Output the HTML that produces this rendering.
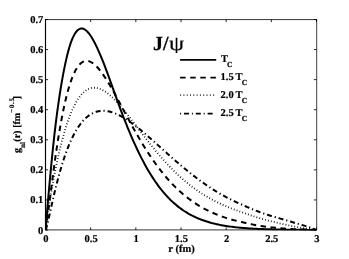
<!DOCTYPE html>
<html><head><meta charset="utf-8"><style>
html,body{margin:0;padding:0;background:#fff;}
svg{display:block;will-change:transform}
text{text-rendering:geometricPrecision;font-family:"Liberation Serif",serif;font-weight:bold;font-size:10.5px;fill:#000;stroke:#000;stroke-width:0.2px}
</style></head><body>
<svg width="349" height="259" viewBox="0 0 349 259">
<rect width="349" height="259" fill="#fff"/>
<clipPath id="c"><rect x="45.5" y="19.5" width="271.0" height="211.1"/></clipPath>
<g clip-path="url(#c)">
<path d="M45.50,230.00 L46.19,228.47 L46.89,226.04 L47.58,223.26 L48.28,220.29 L48.97,217.21 L49.67,214.09 L50.36,210.94 L51.06,207.80 L51.75,204.68 L52.45,201.59 L53.14,198.55 L53.84,195.55 L54.53,192.60 L55.23,189.71 L55.92,186.87 L56.62,184.10 L57.31,181.39 L58.01,178.74 L58.70,176.15 L59.40,173.63 L60.09,171.17 L60.79,168.77 L61.48,166.44 L62.18,164.17 L62.87,161.96 L63.57,159.81 L64.26,157.72 L64.96,155.69 L65.65,153.72 L66.35,151.81 L67.04,149.96 L67.74,148.16 L68.43,146.41 L69.13,144.72 L69.82,143.08 L70.52,141.50 L71.21,139.96 L71.91,138.48 L72.60,137.05 L74.13,134.05 L75.67,131.28 L77.20,128.73 L78.74,126.39 L80.27,124.24 L81.80,122.29 L83.34,120.52 L84.87,118.92 L86.41,117.49 L87.94,116.22 L89.47,115.10 L91.01,114.13 L92.54,113.29 L94.08,112.59 L95.61,112.01 L97.14,111.55 L98.68,111.20 L100.21,110.97 L101.75,110.84 L103.28,110.81 L104.81,110.87 L106.35,111.02 L107.88,111.26 L109.42,111.58 L110.95,111.97 L112.48,112.44 L114.02,112.98 L115.55,113.58 L117.08,114.24 L118.62,114.96 L120.15,115.74 L121.69,116.57 L123.22,117.45 L124.75,118.37 L126.29,119.34 L127.82,120.35 L129.36,121.40 L130.89,122.48 L132.42,123.59 L133.96,124.74 L135.49,125.91 L137.03,127.11 L138.56,128.34 L140.09,129.58 L141.63,130.85 L143.16,132.14 L144.70,133.44 L146.23,134.75 L147.76,136.08 L149.30,137.42 L150.83,138.78 L152.37,140.13 L153.90,141.50 L155.43,142.87 L156.97,144.25 L158.50,145.63 L160.04,147.01 L161.57,148.39 L163.10,149.77 L164.64,151.15 L166.17,152.53 L167.71,153.90 L169.24,155.27 L170.77,156.63 L172.31,157.98 L173.84,159.33 L175.38,160.67 L176.91,162.00 L178.44,163.32 L179.98,164.63 L181.51,165.93 L183.05,167.22 L184.58,168.50 L186.11,169.76 L187.65,171.01 L189.18,172.25 L190.72,173.47 L192.25,174.68 L193.78,175.87 L195.32,177.05 L196.85,178.21 L198.38,179.36 L199.92,180.48 L201.45,181.60 L202.99,182.69 L204.52,183.77 L206.05,184.83 L207.59,185.88 L209.12,186.90 L210.66,187.91 L212.19,188.90 L213.72,189.88 L215.26,190.83 L216.79,191.77 L218.33,192.69 L219.86,193.59 L221.39,194.48 L222.93,195.34 L224.46,196.19 L226.00,197.02 L227.53,197.84 L229.06,198.64 L230.60,199.42 L232.13,200.18 L233.67,200.93 L235.20,201.66 L236.73,202.38 L238.27,203.08 L239.80,203.76 L241.34,204.44 L242.87,205.12 L244.40,205.79 L245.94,206.46 L247.47,207.13 L249.01,207.79 L250.54,208.44 L252.07,209.08 L253.61,209.72 L255.14,210.34 L256.68,210.94 L258.21,211.54 L259.74,212.12 L261.28,212.68 L262.81,213.22 L264.35,213.74 L265.88,214.25 L267.41,214.73 L268.95,215.20 L270.48,215.67 L272.02,216.14 L273.55,216.60 L275.08,217.05 L276.62,217.50 L278.15,217.95 L279.68,218.40 L281.22,218.85 L282.75,219.30 L284.29,219.75 L285.82,220.20 L287.35,220.65 L288.89,221.10 L290.42,221.56 L291.96,222.03 L293.49,222.50 L295.02,222.97 L296.56,223.43 L298.09,223.87 L299.63,224.32 L301.16,224.76 L302.69,225.21 L304.23,225.66 L305.76,226.12 L307.30,226.60 L308.83,227.10 L310.36,227.61 L311.90,228.16 L313.43,228.74 L314.97,229.35 L316.50,230.00" fill="none" stroke="#000" stroke-width="2" stroke-dasharray="5 2.9 1.2 2.9"/>
<path d="M45.50,230.00 L46.19,224.79 L46.89,219.92 L47.58,215.21 L48.28,210.63 L48.97,206.18 L49.67,201.85 L50.36,197.62 L51.06,193.49 L51.75,189.47 L52.45,185.55 L53.14,181.72 L53.84,177.99 L54.53,174.36 L55.23,170.82 L55.92,167.36 L56.62,164.00 L57.31,160.73 L58.01,157.55 L58.70,154.45 L59.40,151.44 L60.09,148.52 L60.79,145.68 L61.48,142.92 L62.18,140.24 L62.87,137.65 L63.57,135.13 L64.26,132.69 L64.96,130.33 L65.65,128.05 L66.35,125.84 L67.04,123.71 L67.74,121.65 L68.43,119.66 L69.13,117.75 L69.82,115.90 L70.52,114.13 L71.21,112.42 L71.91,110.78 L72.60,109.20 L74.13,105.96 L75.67,103.02 L77.20,100.38 L78.74,98.02 L80.27,95.93 L81.80,94.11 L83.34,92.54 L84.87,91.21 L86.41,90.11 L87.94,89.23 L89.47,88.56 L91.01,88.09 L92.54,87.82 L94.08,87.72 L95.61,87.80 L97.14,88.04 L98.68,88.43 L100.21,88.97 L101.75,89.65 L103.28,90.45 L104.81,91.37 L106.35,92.41 L107.88,93.55 L109.42,94.79 L110.95,96.12 L112.48,97.54 L114.02,99.03 L115.55,100.59 L117.08,102.22 L118.62,103.91 L120.15,105.65 L121.69,107.44 L123.22,109.27 L124.75,111.13 L126.29,113.03 L127.82,114.96 L129.36,116.92 L130.89,118.89 L132.42,120.88 L133.96,122.88 L135.49,124.89 L137.03,126.90 L138.56,128.92 L140.09,130.93 L141.63,132.94 L143.16,134.95 L144.70,136.94 L146.23,138.93 L147.76,140.90 L149.30,142.85 L150.83,144.79 L152.37,146.71 L153.90,148.61 L155.43,150.48 L156.97,152.34 L158.50,154.16 L160.04,155.96 L161.57,157.74 L163.10,159.48 L164.64,161.20 L166.17,162.89 L167.71,164.55 L169.24,166.18 L170.77,167.78 L172.31,169.35 L173.84,170.88 L175.38,172.39 L176.91,173.86 L178.44,175.30 L179.98,176.71 L181.51,178.09 L183.05,179.44 L184.58,180.76 L186.11,182.05 L187.65,183.30 L189.18,184.53 L190.72,185.72 L192.25,186.89 L193.78,188.03 L195.32,189.14 L196.85,190.22 L198.38,191.27 L199.92,192.30 L201.45,193.30 L202.99,194.27 L204.52,195.22 L206.05,196.15 L207.59,197.05 L209.12,197.92 L210.66,198.78 L212.19,199.61 L213.72,200.42 L215.26,201.21 L216.79,201.98 L218.33,202.73 L219.86,203.46 L221.39,204.17 L222.93,204.86 L224.46,205.54 L226.00,206.20 L227.53,206.84 L229.06,207.47 L230.60,208.08 L232.13,208.68 L233.67,209.27 L235.20,209.84 L236.73,210.40 L238.27,210.94 L239.80,211.48 L241.34,212.01 L242.87,212.55 L244.40,213.08 L245.94,213.62 L247.47,214.15 L249.01,214.69 L250.54,215.22 L252.07,215.74 L253.61,216.26 L255.14,216.77 L256.68,217.27 L258.21,217.75 L259.74,218.23 L261.28,218.69 L262.81,219.14 L264.35,219.57 L265.88,219.98 L267.41,220.38 L268.95,220.76 L270.48,221.14 L272.02,221.52 L273.55,221.89 L275.08,222.25 L276.62,222.62 L278.15,222.97 L279.68,223.33 L281.22,223.68 L282.75,224.02 L284.29,224.37 L285.82,224.71 L287.35,225.04 L288.89,225.38 L290.42,225.70 L291.96,226.03 L293.49,226.35 L295.02,226.67 L296.56,226.96 L298.09,227.23 L299.63,227.48 L301.16,227.72 L302.69,227.95 L304.23,228.17 L305.76,228.38 L307.30,228.60 L308.83,228.81 L310.36,229.03 L311.90,229.25 L313.43,229.49 L314.97,229.74 L316.50,230.00" fill="none" stroke="#000" stroke-width="1.8" stroke-dasharray="0.8 2.2"/>
<path d="M45.50,230.00 L46.19,226.35 L46.89,221.68 L47.58,216.61 L48.28,211.33 L48.97,205.93 L49.67,200.48 L50.36,195.02 L51.06,189.58 L51.75,184.19 L52.45,178.87 L53.14,173.62 L53.84,168.46 L54.53,163.41 L55.23,158.46 L55.92,153.64 L56.62,148.93 L57.31,144.35 L58.01,139.89 L58.70,135.57 L59.40,131.38 L60.09,127.33 L60.79,123.40 L61.48,119.62 L62.18,115.97 L62.87,112.45 L63.57,109.07 L64.26,105.82 L64.96,102.70 L65.65,99.71 L66.35,96.85 L67.04,94.12 L67.74,91.52 L68.43,89.04 L69.13,86.68 L69.82,84.44 L70.52,82.32 L71.21,80.31 L71.91,78.42 L72.60,76.64 L74.13,73.10 L75.67,70.06 L77.20,67.50 L78.74,65.39 L80.27,63.72 L81.80,62.46 L83.34,61.57 L84.87,61.04 L86.41,60.85 L87.94,60.96 L89.47,61.37 L91.01,62.04 L92.54,62.97 L94.08,64.12 L95.61,65.48 L97.14,67.03 L98.68,68.76 L100.21,70.65 L101.75,72.69 L103.28,74.85 L104.81,77.13 L106.35,79.51 L107.88,81.99 L109.42,84.54 L110.95,87.16 L112.48,89.84 L114.02,92.57 L115.55,95.34 L117.08,98.14 L118.62,100.96 L120.15,103.80 L121.69,106.66 L123.22,109.51 L124.75,112.37 L126.29,115.21 L127.82,118.05 L129.36,120.87 L130.89,123.67 L132.42,126.44 L133.96,129.19 L135.49,131.90 L137.03,134.59 L138.56,137.23 L140.09,139.84 L141.63,142.41 L143.16,144.94 L144.70,147.42 L146.23,149.86 L147.76,152.26 L149.30,154.61 L150.83,156.91 L152.37,159.16 L153.90,161.36 L155.43,163.52 L156.97,165.62 L158.50,167.68 L160.04,169.69 L161.57,171.65 L163.10,173.56 L164.64,175.42 L166.17,177.23 L167.71,179.00 L169.24,180.72 L170.77,182.39 L172.31,184.02 L173.84,185.60 L175.38,187.13 L176.91,188.62 L178.44,190.07 L179.98,191.48 L181.51,192.84 L183.05,194.16 L184.58,195.44 L186.11,196.69 L187.65,197.89 L189.18,199.06 L190.72,200.18 L192.25,201.28 L193.78,202.33 L195.32,203.36 L196.85,204.35 L198.38,205.30 L199.92,206.23 L201.45,207.12 L202.99,207.99 L204.52,208.82 L206.05,209.63 L207.59,210.41 L209.12,211.16 L210.66,211.88 L212.19,212.58 L213.72,213.26 L215.26,213.91 L216.79,214.54 L218.33,215.14 L219.86,215.73 L221.39,216.29 L222.93,216.83 L224.46,217.35 L226.00,217.86 L227.53,218.34 L229.06,218.81 L230.60,219.26 L232.13,219.69 L233.67,220.10 L235.20,220.50 L236.73,220.89 L238.27,221.26 L239.80,221.62 L241.34,221.97 L242.87,222.32 L244.40,222.67 L245.94,223.02 L247.47,223.37 L249.01,223.71 L250.54,224.04 L252.07,224.37 L253.61,224.69 L255.14,225.00 L256.68,225.30 L258.21,225.58 L259.74,225.85 L261.28,226.11 L262.81,226.35 L264.35,226.57 L265.88,226.77 L267.41,226.95 L268.95,227.12 L270.48,227.28 L272.02,227.44 L273.55,227.59 L275.08,227.73 L276.62,227.88 L278.15,228.01 L279.68,228.14 L281.22,228.27 L282.75,228.40 L284.29,228.52 L285.82,228.64 L287.35,228.75 L288.89,228.86 L290.42,228.97 L291.96,229.08 L293.49,229.18 L295.02,229.28 L296.56,229.36 L298.09,229.42 L299.63,229.47 L301.16,229.50 L302.69,229.53 L304.23,229.55 L305.76,229.57 L307.30,229.60 L308.83,229.63 L310.36,229.67 L311.90,229.72 L313.43,229.79 L314.97,229.88 L316.50,230.00" fill="none" stroke="#000" stroke-width="2" stroke-dasharray="5.5 4.5"/>
<path d="M45.50,230.00 L46.19,221.93 L46.89,213.75 L47.58,205.65 L48.28,197.65 L48.97,189.80 L49.67,182.11 L50.36,174.58 L51.06,167.24 L51.75,160.09 L52.45,153.13 L53.15,146.37 L53.85,139.81 L54.56,133.45 L55.28,127.30 L56.01,121.36 L56.74,115.62 L57.47,110.10 L58.21,104.77 L58.95,99.65 L59.69,94.74 L60.43,90.03 L61.17,85.52 L61.91,81.20 L62.65,77.09 L63.38,73.16 L64.10,69.43 L64.83,65.89 L65.54,62.53 L66.25,59.35 L66.95,56.35 L67.64,53.53 L68.34,50.88 L69.03,48.40 L69.73,46.08 L70.42,43.93 L71.12,41.93 L71.81,40.09 L72.51,38.40 L73.20,36.85 L74.73,33.95 L76.27,31.70 L77.80,30.08 L79.34,29.04 L80.87,28.54 L82.40,28.55 L83.94,29.04 L85.47,29.95 L87.01,31.27 L88.54,32.96 L90.07,34.98 L91.61,37.31 L93.14,39.91 L94.68,42.77 L96.21,45.84 L97.74,49.11 L99.28,52.56 L100.81,56.15 L102.34,59.88 L103.85,63.71 L105.36,67.63 L106.86,71.63 L108.35,75.68 L109.84,79.78 L111.32,83.90 L112.81,88.04 L114.29,92.18 L115.78,96.31 L117.26,100.42 L118.75,104.50 L120.24,108.55 L121.74,112.56 L123.25,116.51 L124.76,120.41 L126.29,124.24 L127.82,128.01 L129.36,131.70 L130.89,135.32 L132.42,138.87 L133.96,142.33 L135.49,145.71 L137.03,149.00 L138.56,152.21 L140.09,155.34 L141.63,158.37 L143.16,161.32 L144.70,164.18 L146.23,166.95 L147.76,169.63 L149.30,172.23 L150.83,174.74 L152.37,177.16 L153.90,179.51 L155.43,181.76 L156.97,183.94 L158.50,186.04 L160.04,188.06 L161.57,190.00 L163.10,191.87 L164.64,193.67 L166.17,195.39 L167.71,197.05 L169.24,198.64 L170.77,200.16 L172.31,201.62 L173.84,203.01 L175.38,204.35 L176.91,205.63 L178.44,206.86 L179.98,208.03 L181.51,209.14 L183.05,210.21 L184.58,211.23 L186.11,212.20 L187.65,213.13 L189.18,214.01 L190.72,214.85 L192.25,215.66 L193.78,216.42 L195.32,217.15 L196.85,217.84 L198.38,218.50 L199.92,219.12 L201.45,219.71 L202.99,220.28 L204.52,220.81 L206.05,221.32 L207.59,221.81 L209.12,222.26 L210.66,222.70 L212.19,223.11 L213.72,223.50 L215.26,223.87 L216.79,224.22 L218.33,224.55 L219.86,224.87 L221.39,225.16 L222.93,225.44 L224.46,225.71 L226.00,225.96 L227.53,226.20 L229.06,226.42 L230.60,226.63 L232.13,226.83 L233.67,227.02 L235.20,227.20 L236.73,227.37 L238.27,227.53 L239.80,227.68 L241.34,227.82 L242.87,227.95 L244.40,228.07 L245.94,228.19 L247.47,228.30 L249.01,228.41 L250.54,228.51 L252.07,228.60 L253.61,228.69 L255.14,228.77 L256.68,228.84 L258.21,228.92 L259.74,228.99 L261.28,229.05 L262.81,229.11 L264.35,229.17 L265.88,229.22 L267.41,229.27 L268.95,229.32 L270.48,229.36 L272.02,229.40 L273.55,229.44 L275.08,229.48 L276.62,229.51 L278.15,229.54 L279.68,229.57 L281.22,229.60 L282.75,229.63 L284.29,229.65 L285.82,229.67 L287.35,229.70 L288.89,229.72 L290.42,229.74 L291.96,229.75 L293.49,229.77 L295.02,229.79 L296.56,229.80 L298.09,229.82 L299.63,229.83 L301.16,229.85 L302.69,229.86 L304.23,229.87 L305.76,229.89 L307.30,229.90 L308.83,229.92 L310.36,229.93 L311.90,229.95 L313.43,229.96 L314.97,229.98 L316.50,230.00" fill="none" stroke="#000" stroke-width="2"/>
</g>
<path d="M45.5,19.2 V230.3" stroke="#000" stroke-width="1.15"/>
<path d="M45.5,19.6 H316.7 M45.5,229.9 H316.7" stroke="#000" stroke-width="0.8"/>
<path d="M316.7,19.2 V230.3" stroke="#000" stroke-width="0.75"/>
<path d="M45.50,230.0 v-2.6 M45.50,19.5 v2.6" stroke="#000" stroke-width="0.85"/>
<path d="M90.67,230.0 v-2.6 M90.67,19.5 v2.6" stroke="#000" stroke-width="0.85"/>
<path d="M135.83,230.0 v-2.6 M135.83,19.5 v2.6" stroke="#000" stroke-width="0.85"/>
<path d="M181.00,230.0 v-2.6 M181.00,19.5 v2.6" stroke="#000" stroke-width="0.85"/>
<path d="M226.17,230.0 v-2.6 M226.17,19.5 v2.6" stroke="#000" stroke-width="0.85"/>
<path d="M271.33,230.0 v-2.6 M271.33,19.5 v2.6" stroke="#000" stroke-width="0.85"/>
<path d="M316.50,230.0 v-2.6 M316.50,19.5 v2.6" stroke="#000" stroke-width="0.85"/>
<path d="M45.5,230.00 h2.6 M316.5,230.00 h-2.6" stroke="#000" stroke-width="0.85"/>
<path d="M45.5,199.93 h2.6 M316.5,199.93 h-2.6" stroke="#000" stroke-width="0.85"/>
<path d="M45.5,169.86 h2.6 M316.5,169.86 h-2.6" stroke="#000" stroke-width="0.85"/>
<path d="M45.5,139.79 h2.6 M316.5,139.79 h-2.6" stroke="#000" stroke-width="0.85"/>
<path d="M45.5,109.71 h2.6 M316.5,109.71 h-2.6" stroke="#000" stroke-width="0.85"/>
<path d="M45.5,79.64 h2.6 M316.5,79.64 h-2.6" stroke="#000" stroke-width="0.85"/>
<path d="M45.5,49.57 h2.6 M316.5,49.57 h-2.6" stroke="#000" stroke-width="0.85"/>
<path d="M45.5,19.50 h2.6 M316.5,19.50 h-2.6" stroke="#000" stroke-width="0.85"/>

<text x="45.90" y="242.2" text-anchor="middle">0</text>
<text x="91.07" y="242.2" text-anchor="middle">0.5</text>
<text x="136.23" y="242.2" text-anchor="middle">1</text>
<text x="181.40" y="242.2" text-anchor="middle">1.5</text>
<text x="226.57" y="242.2" text-anchor="middle">2</text>
<text x="271.73" y="242.2" text-anchor="middle">2.5</text>
<text x="316.90" y="242.2" text-anchor="middle">3</text>
<text x="43.3" y="233.90" text-anchor="end">0</text>
<text x="43.3" y="203.43" text-anchor="end">0.1</text>
<text x="43.3" y="173.36" text-anchor="end">0.2</text>
<text x="43.3" y="143.29" text-anchor="end">0.3</text>
<text x="43.3" y="113.21" text-anchor="end">0.4</text>
<text x="43.3" y="83.14" text-anchor="end">0.5</text>
<text x="43.3" y="53.07" text-anchor="end">0.6</text>
<text x="43.3" y="23.00" text-anchor="end">0.7</text>

<text x="181.5" y="252.2" text-anchor="middle">r (fm)</text>
<text transform="translate(19.8,153) rotate(-90)" style="font-size:10px">g<tspan font-size="7.2" dy="5.1">nl</tspan><tspan dy="-5.1" dx="0.3">(r)</tspan><tspan dx="2.8">[fm</tspan><tspan font-size="6.8" dy="-5.5" letter-spacing="0.8">−0.5</tspan><tspan dy="5.5" dx="-2.0">]</tspan></text>
<text x="153" y="50.4" style="font-size:20px">J/</text>
<clipPath id="pc"><rect x="165" y="30" width="25" height="22.9"/></clipPath>
<g clip-path="url(#pc)"><text transform="translate(169.0,50.4) scale(1.2,1)" style="font-weight:normal;font-size:20px">ψ</text></g>
<path d="M180.1,59.8 H216.2" stroke="#000" stroke-width="1.7"/>
<path d="M180.1,77.7 H216.2" stroke="#000" stroke-width="1.7" stroke-dasharray="5.5 4.6"/>
<path d="M180.1,95.2 H215.5" stroke="#000" stroke-width="1.3" stroke-dasharray="1 2.3"/>
<path d="M180.1,113.7 H215.4" stroke="#000" stroke-width="1.7" stroke-dasharray="5 2.9 1 2.9" stroke-dashoffset="7.9"/>
<text x="221" y="62" style="font-size:10.5px">T<tspan font-size="7.6" dy="4.7" dx="-0.9">C</tspan></text>
<text x="220.5" y="80" style="font-size:10.5px">1.5<tspan dx="1.9">T</tspan><tspan font-size="7.6" dy="4.7" dx="-0.9">C</tspan></text>
<text x="220.5" y="98" style="font-size:10.5px">2.0<tspan dx="1.9">T</tspan><tspan font-size="7.6" dy="4.7" dx="-0.9">C</tspan></text>
<text x="220.5" y="116" style="font-size:10.5px">2.5<tspan dx="1.9">T</tspan><tspan font-size="7.6" dy="4.7" dx="-0.9">C</tspan></text>
</svg>
</body></html>
